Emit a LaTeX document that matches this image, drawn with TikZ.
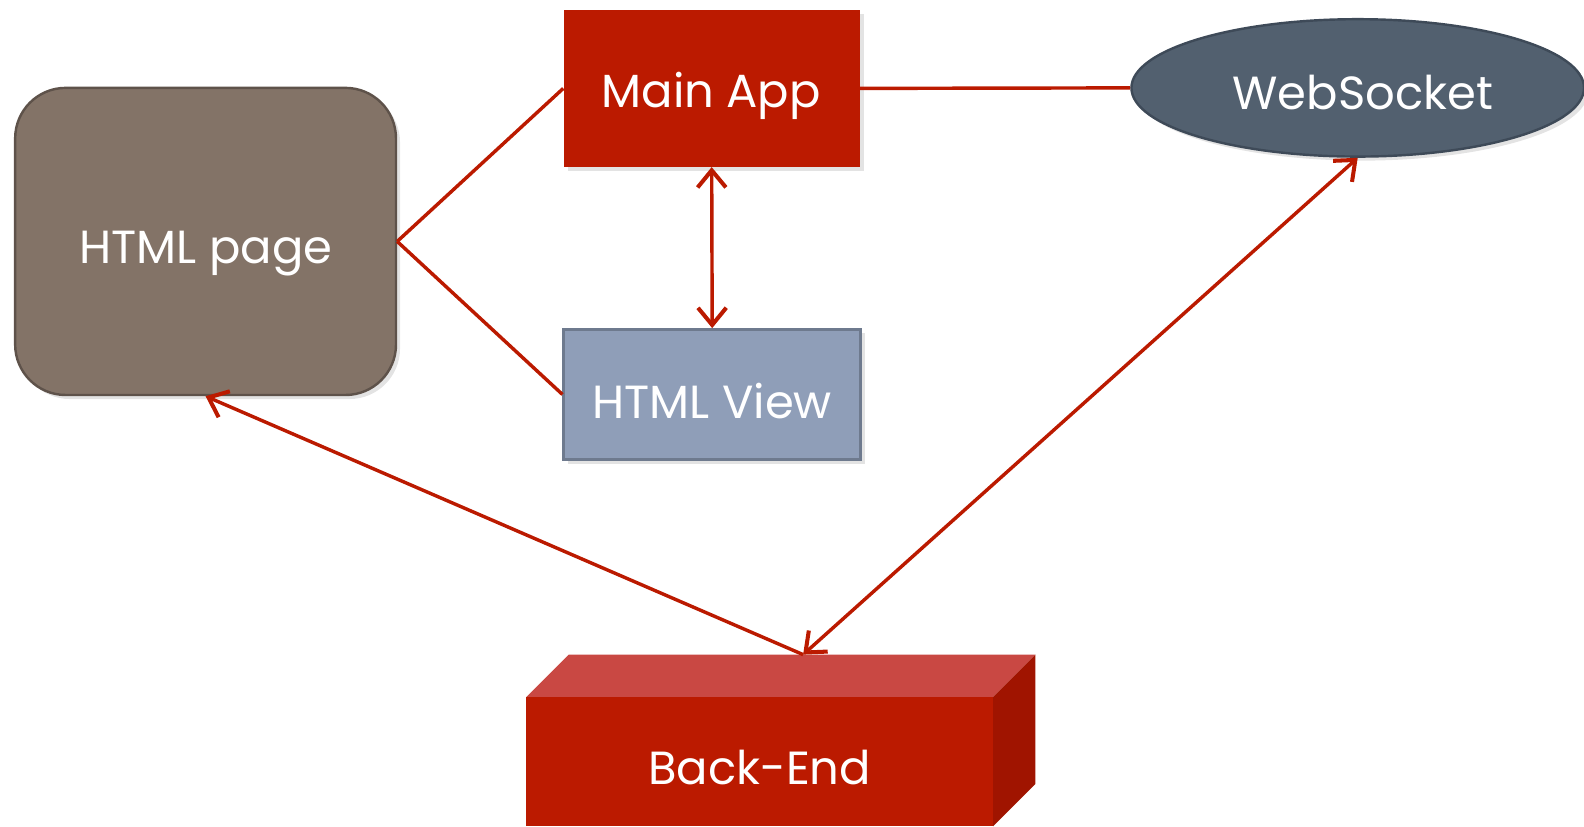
\documentclass[tikz,border=0pt]{standalone}
\usepackage{fontspec}
\setmainfont{Poppins}
\usetikzlibrary{arrows.meta,shapes.geometric,shadows}
\definecolor{cred}{RGB}{187,26,0}
\definecolor{cpage}{RGB}{131,115,103}
\definecolor{cpageb}{RGB}{94,82,74}
\definecolor{cview}{RGB}{143,158,184}
\definecolor{cviewb}{RGB}{110,122,142}
\definecolor{cws}{RGB}{82,96,111}
\definecolor{cwsb}{RGB}{62,74,88}
\definecolor{cbetop}{RGB}{201,72,67}
\definecolor{cbeside}{RGB}{160,20,0}
\tikzset{
  lbl/.style={text=white,font=\fontsize{23}{27}\selectfont,inner sep=0pt,anchor=base},
  shd/.style={drop shadow={opacity=0.22,shadow xshift=2pt,shadow yshift=-2pt}},
  conn/.style={draw=cred,line width=1.7pt},
  barb/.tip={Straight Barb[length=8.5pt,width=14pt,line width=2pt]},
  tip/.style={-barb},
  tips/.style={barb-barb}
}
\begin{document}
\begin{tikzpicture}[x=0.5pt,y=-0.5pt]
% nodes
\node[shd,fill=cred,minimum width=146.5pt,minimum height=77.5pt,inner sep=0pt] (main) at (704.5,87.5) {};
\node[lbl] (mainlbl) at (704,106) {Main App};
\node[shd,fill=cpage,draw=cpageb,line width=1.2pt,rounded corners=25pt,minimum width=188.5pt,minimum height=152pt,inner sep=0pt] (hp) at (203.5,239) {};
\node[lbl] (hplbl) at (204,261) {HTML page};
\node[shd,fill=cview,draw=cviewb,line width=1.2pt,minimum width=147pt,minimum height=64.5pt,inner sep=0pt] (hv) at (705,390.5) {};
\node[lbl] (hvlbl) at (705,414) {HTML View};
\node[shd,ellipse,fill=cws,draw=cwsb,line width=1.2pt,minimum width=224pt,minimum height=68pt,inner sep=0pt] (ws) at (1344,87) {};
\node[lbl] (wslbl) at (1349,108) {WebSocket};
% Back-End 3D box
\fill[cbetop] (521,690) -- (563,648) -- (1025,648) -- (983,690) -- cycle;
\fill[cbeside] (983,690) -- (1025,648) -- (1025,776) -- (983,818) -- cycle;
\node[fill=cred,minimum width=231pt,minimum height=64pt,inner sep=0pt] (be) at (752,754) {};
\node[lbl] (belbl) at (752,777) {Back-End};
\coordinate (betop) at (795,648);
% connectors
\draw[conn] (hp.east) -- (main.west);
\draw[conn] (hp.east) -- (hv.west);
\draw[conn] (main.east) -- (ws.west);
\draw[conn,tips] (main.south) -- (hv.north);
\draw[conn,tip] (betop) -- (hp.south);
\draw[conn,tips] (ws.south) -- (betop);
\pgfresetboundingbox
\path[use as bounding box] (0,0) rectangle (1568,818);
\end{tikzpicture}
\end{document}
